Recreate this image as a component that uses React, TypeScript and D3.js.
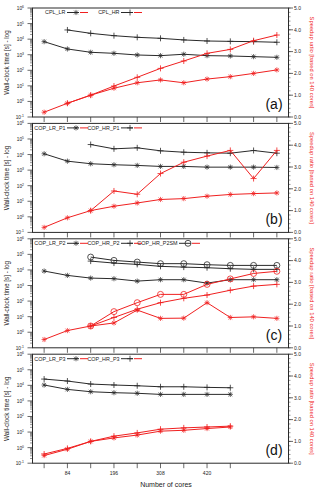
import React from "react";
import * as d3 from "d3";

// ---------- data ----------
const coresAll = [28, 84, 140, 196, 252, 308, 364, 420, 476, 532, 588];
const coresFrom84 = [84, 140, 196, 252, 308, 364, 420, 476, 532, 588];
const coresFrom140 = [140, 196, 252, 308, 364, 420, 476, 532, 588];
const coresD = [28, 84, 140, 196, 252, 308, 364, 420, 476];
const xTickLabels = [84, 196, 308, 420];
const leftTickExps = [-1, 0, 1, 2, 3, 4, 5, 6];
const rightTicks = [0, 1, 2, 3, 4, 5];

// panel (a)
const cplLRTime = [6900, 2340, 1430, 1230, 960, 870, 1070, 870, 830, 750, 680];
const cplHRTime = [38900, 23600, 16700, 13100, 11300, 8900, 7600, 7200, 6900, 6300];
const cplLRSpeed = [0.22, 0.63, 1.0, 1.32, 1.57, 1.7, 1.57, 1.74, 1.85, 2.0, 2.16];
const cplHRSpeed = [0.63, 1.0, 1.42, 1.82, 2.23, 2.57, 2.92, 3.1, 3.5, 3.76];

// panel (b)
const p1LRTime = [11200, 3760, 2570, 2210, 2000, 1730, 1730, 1550, 1550, 1550, 1480];
const p1HRTime = [43900, 23300, 27000, 17400, 14100, 12900, 12200, 18200, 12200];
const p1LRSpeed = [0.23, 0.67, 1.0, 1.2, 1.35, 1.51, 1.55, 1.66, 1.74, 1.78, 1.81];
const p1HRSpeed = [1.0, 1.9, 1.75, 2.7, 3.22, 3.5, 3.76, 2.47, 3.76];

// panel (c)
const p2LRTime = [8500, 4460, 3000, 2740, 1920, 2360, 2360, 1430, 2360, 2360, 2360];
const p2HRTime = [37000, 27600, 22700, 17000, 15200, 13900, 12000, 10900, 10900];
const p2SMTime = [67000, 41000, 32000, 25300, 25300, 21700, 19600, 19600, 19600];
const p2LRSpeed = [0.38, 0.79, 1.0, 1.14, 1.73, 1.35, 1.36, 2.07, 1.39, 1.42, 1.35];
const p2HRSpeed = [1.0, 1.39, 1.77, 2.07, 2.27, 2.42, 2.64, 2.83, 2.91];
const p2SMSpeed = [1.0, 1.66, 2.07, 2.45, 2.45, 2.91, 3.16, 3.41, 3.51];

// panel (d)
const p3LRTime = [10500, 5500, 3890, 3370, 3090, 2630, 2630, 2630, 2630];
const p3HRTime = [25300, 18900, 12100, 10500, 9400, 8100, 8100, 7400, 7000];
const p3LRSpeed = [0.35, 0.64, 1.0, 1.16, 1.29, 1.47, 1.51, 1.59, 1.66];
const p3HRSpeed = [0.42, 0.68, 1.0, 1.24, 1.39, 1.56, 1.62, 1.66, 1.7];

type Series = { name: string; cores: number[]; time: number[]; speed: number[]; marker: string };
type Panel = { label: string; series: Series[]; ticks: number[]; showLabels: boolean };

const panels: Panel[] = [
  {
    label: "(a)", ticks: coresAll, showLabels: false,
    series: [
      { name: "CPL_LR", cores: coresAll, time: cplLRTime, speed: cplLRSpeed, marker: "star" },
      { name: "CPL_HR", cores: coresFrom84, time: cplHRTime, speed: cplHRSpeed, marker: "plus" },
    ],
  },
  {
    label: "(b)", ticks: coresAll, showLabels: false,
    series: [
      { name: "COP_LR_P1", cores: coresAll, time: p1LRTime, speed: p1LRSpeed, marker: "star" },
      { name: "COP_HR_P1", cores: coresFrom140, time: p1HRTime, speed: p1HRSpeed, marker: "plus" },
    ],
  },
  {
    label: "(c)", ticks: coresAll, showLabels: false,
    series: [
      { name: "COP_LR_P2", cores: coresAll, time: p2LRTime, speed: p2LRSpeed, marker: "star" },
      { name: "COP_HR_P2", cores: coresFrom140, time: p2HRTime, speed: p2HRSpeed, marker: "plus" },
      { name: "COP_HR_P2SM", cores: coresFrom140, time: p2SMTime, speed: p2SMSpeed, marker: "circle" },
    ],
  },
  {
    label: "(d)", ticks: coresD, showLabels: true,
    series: [
      { name: "COP_LR_P3", cores: coresD, time: p3LRTime, speed: p3LRSpeed, marker: "star" },
      { name: "COP_HR_P3", cores: coresD, time: p3HRTime, speed: p3HRSpeed, marker: "plus" },
    ],
  },
];

const BLACK = "#2a2a2a";
const RED = "#f02020";
const FONT = "'Liberation Sans', Arial, Helvetica, sans-serif";

function Marker({ type, cx, cy, color }: { type: string; cx: number; cy: number; color: string }) {
  if (type === "plus") {
    const r = 3;
    return (
      <g stroke={color} strokeWidth={0.8}>
        <line x1={cx - r} y1={cy} x2={cx + r} y2={cy} />
        <line x1={cx} y1={cy - r} x2={cx} y2={cy + r} />
      </g>
    );
  }
  if (type === "circle") {
    return <circle cx={cx} cy={cy} r={3} fill="none" stroke={color} strokeWidth={0.8} />;
  }
  const r = 2.6;
  const d = r * 0.75;
  return (
    <g stroke={color} strokeWidth={0.7}>
      <line x1={cx - r} y1={cy} x2={cx + r} y2={cy} />
      <line x1={cx} y1={cy - r} x2={cx} y2={cy + r} />
      <line x1={cx - d} y1={cy - d} x2={cx + d} y2={cy + d} />
      <line x1={cx - d} y1={cy + d} x2={cx + d} y2={cy - d} />
    </g>
  );
}

const X0 = 32.5;
const X1 = 288.5;
const x = d3.scaleLinear().domain([0, 616]).range([X0, X1]);
const legendStarts = [67, 121, 179];

function PanelView({ p, i }: { p: Panel; i: number }) {
  const top = 8 + i * 115.4;
  const bottom = top + 109;
  const yL = d3.scaleLog().domain([0.1, 1e6]).range([bottom, top]);
  const yR = d3.scaleLinear().domain([0, 5]).range([bottom, top]);
  const minor: number[] = [];
  for (let e = -1; e < 6; e++) for (let k = 2; k <= 9; k++) minor.push(k * Math.pow(10, e));
  const rMinor = d3.range(0, 5.001, 0.2);
  const lineL = (s: Series) =>
    d3.line<number>().x((_, j) => x(s.cores[j])).y((v) => yL(v))(s.time) || "";
  const lineR = (s: Series) =>
    d3.line<number>().x((_, j) => x(s.cores[j])).y((v) => yR(v))(s.speed) || "";
  return (
    <g>
      <rect x={X0} y={top} width={X1 - X0} height={bottom - top} fill="none" stroke={BLACK} strokeWidth={1} />
      {/* left ticks */}
      {minor.map((v, k) => (
        <line key={"m" + k} x1={X0 - 2.5} x2={X0} y1={yL(v)} y2={yL(v)} stroke={BLACK} strokeWidth={0.5} />
      ))}
      {leftTickExps.map((e) => (
        <g key={"e" + e}>
          <line x1={X0 - 5} x2={X0} y1={yL(Math.pow(10, e))} y2={yL(Math.pow(10, e))} stroke={BLACK} strokeWidth={0.7} />
          <text x={24} y={yL(Math.pow(10, e)) + 2} fontSize={4.8} textAnchor="end" fontFamily={FONT} fill="#222">
            10<tspan fontSize={3.4} dy={-2}>{e}</tspan>
          </text>
        </g>
      ))}
      {/* right ticks */}
      {rMinor.map((v, k) => (
        <line key={"rm" + k} x1={X1} x2={X1 + 2} y1={yR(v)} y2={yR(v)} stroke={BLACK} strokeWidth={0.5} />
      ))}
      {rightTicks.map((v) => (
        <g key={"r" + v}>
          <line x1={X1} x2={X1 + 4.5} y1={yR(v)} y2={yR(v)} stroke={BLACK} strokeWidth={0.7} />
          <text x={X1 + 5.5} y={yR(v) + 1.8} fontSize={5} fontFamily={FONT} fill="#222">
            {v.toFixed(1)}
          </text>
        </g>
      ))}
      {/* bottom ticks */}
      {p.ticks.map((c) => (
        <line key={"xt" + c} x1={x(c)} x2={x(c)} y1={bottom} y2={bottom + 5} stroke={BLACK} strokeWidth={0.7} />
      ))}
      {p.showLabels &&
        xTickLabels.map((c) => (
          <text key={"xl" + c} x={x(c)} y={bottom + 12} fontSize={5} textAnchor="middle" fontFamily={FONT} fill="#222">
            {c}
          </text>
        ))}
      {/* series lines */}
      {p.series.map((s) => (
        <g key={s.name}>
          <path d={lineL(s)} fill="none" stroke={BLACK} strokeWidth={1} />
          {s.time.map((v, j) => (
            <Marker key={"t" + j} type={s.marker} cx={x(s.cores[j])} cy={yL(v)} color={BLACK} />
          ))}
          <path d={lineR(s)} fill="none" stroke={RED} strokeWidth={1} />
          {s.speed.map((v, j) => (
            <Marker key={"s" + j} type={s.marker} cx={x(s.cores[j])} cy={yR(v)} color={RED} />
          ))}
        </g>
      ))}
      {/* legend */}
      {p.series.map((s, k) => {
        const sx = legendStarts[k];
        const ly = top + 4.5;
        return (
          <g key={"lg" + s.name}>
            <text x={sx - 1.5} y={ly + 1.8} fontSize={5.4} textAnchor="end" fontFamily={FONT} fill="#222">
              {s.name}
            </text>
            <line x1={sx} x2={sx + 12} y1={ly} y2={ly} stroke={BLACK} strokeWidth={1} />
            <Marker type={s.marker} cx={sx + 9} cy={ly} color={BLACK} />
            <line x1={sx + 13} x2={sx + 21} y1={ly} y2={ly} stroke={RED} strokeWidth={1} />
          </g>
        );
      })}
      <text x={274} y={bottom - 8} fontSize={14} textAnchor="middle" fontFamily={FONT} fill="#111">
        {p.label}
      </text>
      <text
        transform={`translate(8.5,${(top + bottom) / 2}) rotate(-90)`}
        fontSize={6.3}
        textAnchor="middle"
        fontFamily={FONT}
        fill="#222"
      >
        Wall-clock time [s] - log
      </text>
      <text
        transform={`translate(310,${(top + bottom) / 2}) rotate(90)`}
        fontSize={5.8}
        textAnchor="middle"
        fontFamily={FONT}
        fill={RED}
      >
        Speedup ratio [based on 140 cores]
      </text>
    </g>
  );
}

export default function App() {
  return (
    <svg
      width={320}
      height={492}
      viewBox="0 0 320 492"
      style={{ position: "absolute", left: 0, top: 0, background: "#fff" }}
    >
      <rect width={320} height={492} fill="#fff" />
      {panels.map((p, i) => (
        <PanelView key={p.label} p={p} i={i} />
      ))}
      <text x={166} y={487} fontSize={7} textAnchor="middle" fontFamily={FONT} fill="#222">
        Number of cores
      </text>
    </svg>
  );
}
